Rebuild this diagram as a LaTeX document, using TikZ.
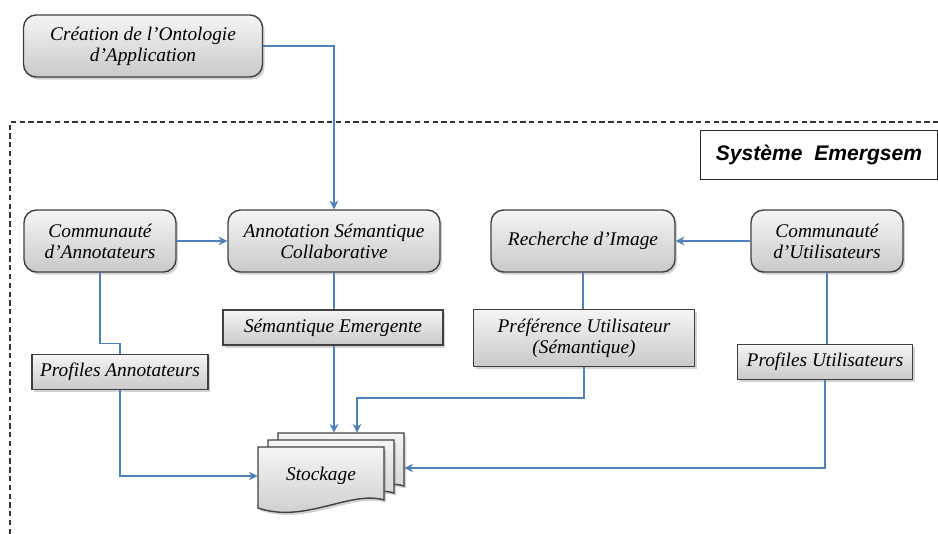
\documentclass[tikz,border=0pt]{standalone}
\usepackage{fontspec}
\usepackage{tikz}
\usetikzlibrary{arrows.meta,shadows,calc}
\setmainfont{Liberation Serif}
\newfontfamily\sysfont{Liberation Sans}
\definecolor{linkblue}{RGB}{79,129,189}

\begin{document}
\begin{tikzpicture}[x=0.02cm, y=-0.02cm,
  box/.style={draw=black!75, line width=0.8pt, top color=gray!8, bottom color=gray!42,
              drop shadow={shadow xshift=1.2pt, shadow yshift=-1.5pt, opacity=0.35},
              align=center, inner sep=2pt, font=\fontsize{11}{12}\selectfont\itshape},
  rbox/.style={box, rounded corners=0.25cm, minimum height=1.24cm},
  sbox/.style={box, minimum height=0.7cm},
  doc/.style={draw=black!75, line width=0.8pt, top color=gray!8, bottom color=gray!42,
              drop shadow={shadow xshift=1.2pt, shadow yshift=-1.5pt, opacity=0.35}},
  link/.style={draw=linkblue, line width=0.8pt},
  >={Stealth[length=5pt, width=5pt]}
]
  \useasboundingbox (0,0) rectangle (938,534);

  \draw[black!80, line width=0.7pt, dash pattern=on 3pt off 2pt] (10,534) -- (10,122) -- (938,122);

  \node[rbox, minimum width=4.78cm] (crea) at (143,46) {Création de l'Ontologie\\d'Application};
  \node[draw=black!85, line width=0.8pt, fill=white, minimum width=4.74cm, minimum height=0.98cm,
        font=\sysfont\bfseries\itshape\fontsize{12}{14}\selectfont] (sys) at (819,155) {Système~ Emergsem};

  \node[rbox, minimum width=3.04cm] (comA) at (100,241) {Communauté\\d'Annotateurs};
  \node[rbox, minimum width=4.24cm] (annot) at (334,241) {Annotation Sémantique\\Collaborative};
  \node[rbox, minimum width=3.68cm] (rech) at (583,241) {Recherche d'Image};
  \node[rbox, minimum width=3.04cm] (comU) at (827,241) {Communauté\\d'Utilisateurs};

  \node[sbox, minimum width=4.4cm, minimum height=0.7cm] (semem) at (333,327.5) {Sémantique Emergente};
  \node[sbox, minimum width=4.42cm, minimum height=1.14cm] (pref) at (584,338) {Préférence Utilisateur\\(Sémantique)};
  \node[sbox, minimum width=3.52cm] (profA) at (120,372) {Profiles Annotateurs};
  \node[sbox, minimum width=3.5cm] (profU) at (825,362) {Profiles Utilisateurs};

  \foreach \dx/\dy in {20/-14, 10/-7, 0/0} {
    \begin{scope}[shift={(\dx,\dy)}]
      \path[doc] (258,447) -- (384,447) -- (384,500)
        .. controls (350,490) and (305,524) .. (258,508) -- cycle;
    \end{scope}
  }
  \node[minimum width=2.52cm, minimum height=1.2cm, font=\fontsize{11}{12}\selectfont\itshape] (stk) at (321,476) {Stockage};
  \node[minimum width=2.52cm, minimum height=1.16cm] (stkb) at (341,462) {};

  \draw[link,->] (crea.east) -| (annot.north);
  \draw[link,->] (comA) -- (annot);
  \draw[link,->] (comU) -- (rech);
  \draw[link] (comA.south) -- ++(0,71) -| (profA.north);
  \draw[link] (annot.south) -- (annot.south |- semem.north);
  \draw[link] (rech.south) -- (rech.south |- pref.north);
  \draw[link] (comU.south) -- (comU.south |- profU.north);
  \draw[link,->] (profA.south) |- (stk.west);
  \draw[link,->] (semem.south -| annot.south) -- (annot.south |- stkb.north);
  \draw[link,->] (pref.south) -- ++(0,31) -| ([xshift=0.32cm]stkb.north);
  \draw[link,->] (profU.south) |- ([yshift=-0.12cm]stkb.east);
\end{tikzpicture}
\end{document}
